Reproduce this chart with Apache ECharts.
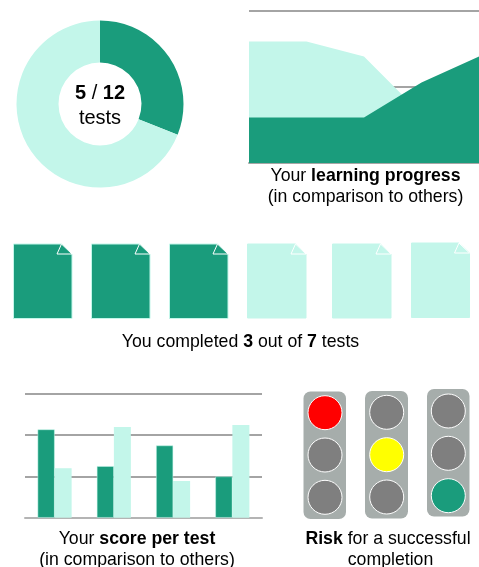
<!DOCTYPE html>
<html>
<head>
	<meta charset="utf-8">
	<title>Test dashboard</title>
	<script src="https://cdn.jsdelivr.net/npm/echarts@6/dist/echarts.min.js"></script>
	<style type="text/css">
		* {
			margin: 0;
			padding: 0;
		}

		body {
			background: #fff;
			overflow: hidden;
		}

		#main {
			width: 479px;
			height: 567px;
		}
	</style>
</head>
<body>
<div id="main"></div>
<script type="text/javascript">
    // data
    var donutNames = ['done', 'open'];
    var donutValues = [31, 69];

    var progressCategories = ['1', '2', '3', '4', '5'];
    var progressYou = [30, 30, 30, 53, 70];
    var progressOthers = [80, 80, 70, 32, 25];
    var progressTicks = [0, 50, 100];

    var scoreCategories = ['Test 1', 'Test 2', 'Test 3', 'Test 4'];
    var scoreYou = [2.14, 1.25, 1.75, 1.0];
    var scoreOthers = [1.2, 2.2, 0.89, 2.25];
    var scoreTicks = [0, 1, 2, 3];

    var testsDone = [true, true, true, false, false, false];
    // which lamp is on in each traffic light
    var lampOn = [0, 1, 2];

    var green = '#1a9c7c';
    var light = '#c3f6ea';
    var gridGray = '#868686';
    var fontName = '"Liberation Sans", Arial, sans-serif';

    var myChart = echarts.init(document.getElementById('main'));

    // pictograms, placed by hand like the original slide
    var docBoxes = [
        [13.5, 244, 58.5, 74.5], [91.5, 244, 58.5, 74.5], [169.5, 244, 58.5, 74.5],
        [247.5, 244, 58.5, 74], [332.5, 244, 58.5, 74], [411.5, 243, 58, 74.5]
    ];
    var lightBoxes = [
        [303.5, 391.5, 42.5, 127.5, 325, [412.7, 455, 497.3]],
        [365, 391, 43, 127.5, 386.7, [412.3, 454.7, 497]],
        [427, 389, 42.5, 127.5, 448.3, [411, 453.3, 495.7]]
    ];
    var lampColors = ['#ff0000', '#ffff00', green];

    var graphics = [];

    testsDone.forEach(function (done, i) {
        var b = docBoxes[i];
        var fill = done ? green : light;
        var foldX = b[0] + b[2] - 10.5;
        var foldY = b[1] + 10;
        graphics.push({
            type: 'polygon',
            shape: {points: [[b[0], b[1]], [foldX, b[1]], [b[0] + b[2], foldY], [b[0] + b[2], b[1] + b[3]], [b[0], b[1] + b[3]]]},
            style: {fill: fill, stroke: light, lineWidth: 1}
        });
        graphics.push({
            type: 'polygon',
            shape: {points: [[foldX, b[1]], [foldX - 4.5, foldY], [b[0] + b[2], foldY]]},
            style: {fill: fill, stroke: '#fff', lineWidth: 1}
        });
    });

    lightBoxes.forEach(function (b, i) {
        graphics.push({
            type: 'rect',
            shape: {x: b[0], y: b[1], width: b[2], height: b[3], r: 7},
            style: {fill: '#a6adab'}
        });
        b[5].forEach(function (cy, k) {
            graphics.push({
                type: 'circle',
                shape: {cx: b[4], cy: cy, r: 17},
                style: {fill: lampOn[i] === k ? lampColors[i] : '#7f7f7f', stroke: '#fff', lineWidth: 1}
            });
        });
    });

    function caption(x, y, rich) {
        return {
            type: 'text',
            x: x,
            y: y,
            style: {
                text: rich,
                align: 'center',
                verticalAlign: 'middle',
                font: '17.7px ' + fontName,
                fill: '#000',
                rich: {
                    b: {font: 'bold 17.7px ' + fontName, fill: '#000'},
                    big: {font: 'bold 20px ' + fontName, fill: '#000'},
                    mid: {font: '20px ' + fontName, fill: '#000'}
                }
            }
        };
    }

    graphics.push(caption(100, 93, '{big|5}{mid| / }{big|12}'));
    graphics.push(caption(100, 118, '{mid|tests}'));
    graphics.push(caption(365.5, 176.5, 'Your {b|learning progress}'));
    graphics.push(caption(365.5, 197.5, '(in comparison to others)'));
    graphics.push(caption(240.5, 342.5, 'You completed {b|3} out of {b|7} tests'));
    graphics.push(caption(137, 539.5, 'Your {b|score per test}'));
    graphics.push(caption(137, 560.5, '(in comparison to others)'));
    graphics.push(caption(388, 539.5, '{b|Risk} for a successful'));
    graphics.push(caption(390.5, 560.5, 'completion'));

    function gridLines() {
        return {show: true, lineStyle: {color: gridGray, width: 1.5}};
    }

    option = {
        animation: false,
        graphic: graphics,
        grid: [
            {left: 249, top: 11, width: 232, height: 152},
            {left: 25, top: 394, width: 237, height: 123.7}
        ],
        xAxis: [
            {
                gridIndex: 0,
                type: 'category',
                boundaryGap: false,
                data: progressCategories,
                axisTick: {show: false},
                axisLabel: {show: false},
                axisLine: {lineStyle: {color: '#a6a6a6', width: 2}}
            },
            {
                gridIndex: 1,
                type: 'category',
                data: scoreCategories,
                axisTick: {show: false},
                axisLabel: {show: false},
                axisLine: {lineStyle: {color: '#b4b4b4', width: 2}}
            }
        ],
        yAxis: [
            {
                gridIndex: 0,
                type: 'value',
                min: progressTicks[0],
                max: progressTicks[progressTicks.length - 1],
                interval: progressTicks[1] - progressTicks[0],
                axisLabel: {show: false},
                axisLine: {show: false},
                axisTick: {show: false},
                splitLine: gridLines()
            },
            {
                gridIndex: 1,
                type: 'value',
                min: scoreTicks[0],
                max: scoreTicks[scoreTicks.length - 1],
                interval: scoreTicks[1] - scoreTicks[0],
                axisLabel: {show: false},
                axisLine: {show: false},
                axisTick: {show: false},
                splitLine: gridLines()
            }
        ],
        series: [
            {
                type: 'pie',
                center: [100, 104],
                radius: [41.5, 83.5],
                startAngle: 90,
                clockwise: true,
                silent: true,
                label: {show: false},
                labelLine: {show: false},
                data: donutNames.map(function (n, i) {
                    return {name: n, value: donutValues[i], itemStyle: {color: i === 0 ? green : light}};
                })
            },
            {
                name: 'others',
                type: 'line',
                xAxisIndex: 0,
                yAxisIndex: 0,
                data: progressOthers,
                symbol: 'none',
                lineStyle: {width: 0},
                itemStyle: {color: light},
                areaStyle: {color: light, opacity: 1}
            },
            {
                name: 'you',
                type: 'line',
                xAxisIndex: 0,
                yAxisIndex: 0,
                data: progressYou,
                symbol: 'none',
                lineStyle: {width: 0},
                itemStyle: {color: green},
                areaStyle: {color: green, opacity: 1}
            },
            {
                name: 'you',
                type: 'bar',
                xAxisIndex: 1,
                yAxisIndex: 1,
                data: scoreYou,
                barWidth: 17,
                barGap: '0%',
                itemStyle: {color: green, borderColor: light, borderWidth: 0.5}
            },
            {
                name: 'others',
                type: 'bar',
                xAxisIndex: 1,
                yAxisIndex: 1,
                data: scoreOthers,
                barWidth: 17,
                barGap: '0%',
                itemStyle: {color: light}
            }
        ]
    };
    myChart.setOption(option);
</script>
</body>
</html>
